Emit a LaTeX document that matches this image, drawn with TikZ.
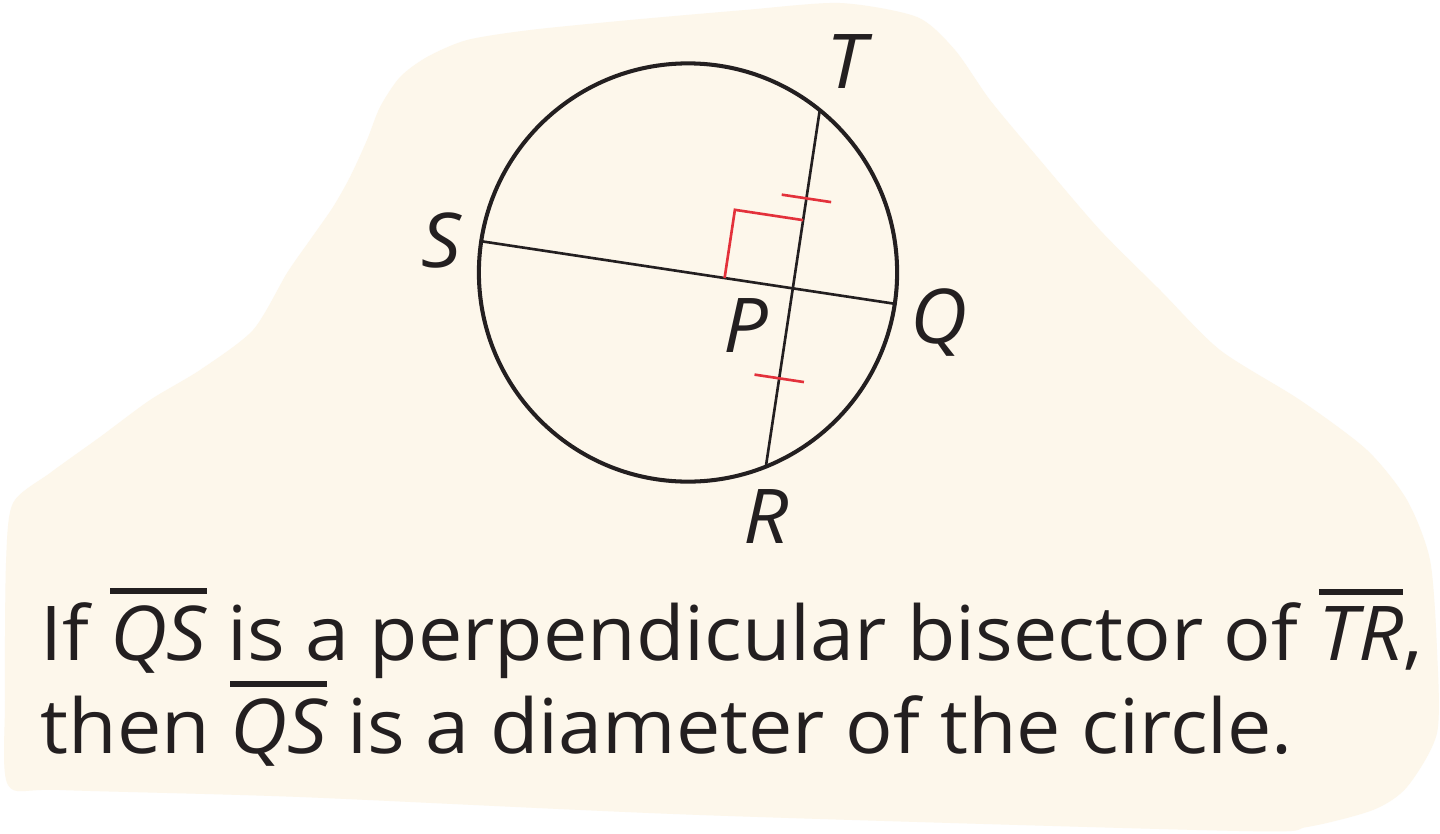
\documentclass[tikz,border=0pt]{standalone}
\usepackage{fontspec}
\setmainfont{Open Sans}[FakeStretch=1.045]
\usetikzlibrary{calc}
\definecolor{cream}{HTML}{FDF7EB}
\definecolor{ink}{HTML}{231F20}
\definecolor{mark}{HTML}{E3313B}
\newcommand\seg[1]{\leavevmode\vbox{\hrule height 1.7pt\kern 3.2pt\hbox{\itshape #1}}}
\begin{document}
\begin{tikzpicture}[x=0.01cm,y=-0.01cm,
  lbl/.style={anchor=base,inner sep=0pt,font=\fontsize{21.5}{26}\selectfont\itshape,text=ink},
  txt/.style={anchor=base west,inner sep=0pt,font=\fontsize{21.5}{26}\selectfont,text=ink},
  seg line/.style={draw=ink,line width=0.75pt},
  redmark/.style={draw=mark,line width=0.75pt}]
\useasboundingbox (0,0) rectangle (1440,833);
\fill[white] (0,0) rectangle (1440,833);
% cream background blob
\fill[cream] plot[smooth cycle,tension=0.45] coordinates {
 (8,785) (5,700) (6,563) (13,503) (50,473) (100,437) (150,400) (200,370)
 (253,330) (287,273) (310,240) (333,207) (350,177) (367,140) (380,107)
 (400,77) (427,57) (467,40) (530,30) (630,20) (745,10)
 (840,3) (917,17) (955,50) (990,100) (1040,160) (1100,230) (1160,290)
 (1220,350) (1300,400) (1367,450) (1407,500) (1430,560) (1437,650)
 (1437,733) (1407,787) (1373,810) (1307,827) (1240,831) (700,815)
 (300,797) (60,790)};
% geometry
\coordinate (C) at (688,272.5);
\coordinate (Q) at ($(C)+(8.6:209)$);
\coordinate (S) at ($(C)+(188.6:209)$);
\coordinate (P) at ($(C)+(8.6:106)$);
\coordinate (T) at ($(P)+(-81.4:180.1)$);
\coordinate (R) at ($(P)+(98.6:180.1)$);
\draw[ink,line width=1.15pt] (C) circle[radius=2.09cm];
\draw[seg line] (S) -- (Q);
\draw[seg line] (T) -- (R);
% right angle mark
\coordinate (A) at ($(P)+(188.6:69)$);
\coordinate (D) at ($(P)+(-81.4:69)$);
\coordinate (B) at ($(A)+(-81.4:69)$);
\draw[redmark] (A) -- (B) -- (D);
% congruence ticks
\coordinate (K1) at ($(P)+(-81.4:91)$);
\coordinate (K2) at ($(P)+(98.6:91)$);
\draw[redmark] ($(K1)+(188.6:25)$) -- ($(K1)+(8.6:25)$);
\draw[redmark] ($(K2)+(188.6:25)$) -- ($(K2)+(8.6:25)$);
% labels
\node[lbl] (lT) at (846,88) {T};
\node[lbl] (lS) at (441,267) {S};
\node[lbl] (lP) at (746,352) {P};
\node[lbl] (lQ) at (939,343) {Q};
\node[lbl] (lR) at (766,543) {R};
% statement
\node[txt] (l1) at (40,660) {If \seg{QS} is a perpendicular bisector of \seg{TR},};
\node[txt] (l2) at (40,753) {then \seg{QS} is a diameter of the circle.};
\end{tikzpicture}
\end{document}
